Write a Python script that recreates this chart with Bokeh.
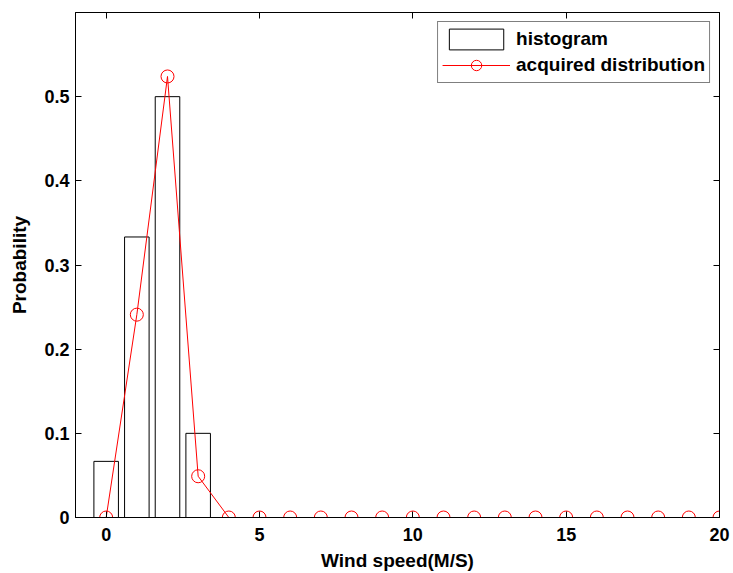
from bokeh.plotting import figure
from bokeh.models import Range1d, LinearAxis, FixedTicker, Legend, LegendItem
from bokeh.embed import file_html
from bokeh.resources import INLINE

# histogram data
bar_centers = [0, 1, 2, 3]
bar_heights = [0.0667, 0.3333, 0.5, 0.1]

# acquired distribution
speeds = list(range(0, 21))
probs = [0, 0.241, 0.524, 0.049, 0, 0, 0, 0, 0, 0, 0,
         0, 0, 0, 0, 0, 0, 0, 0, 0, 0]

x_ticks = [0, 5, 10, 15, 20]
y_ticks = [0, 0.1, 0.2, 0.3, 0.4, 0.5]

FONT = "Liberation Sans"

p = figure(width=733, height=573, x_range=Range1d(-1, 20), y_range=Range1d(0, 0.6),
           output_backend="svg", toolbar_location=None,
           min_border_left=75, min_border_right=14, min_border_top=12, min_border_bottom=56)

p.xgrid.visible = False
p.ygrid.visible = False
p.outline_line_color = "black"
p.outline_line_width = 1
p.background_fill_color = "white"
p.border_fill_color = "white"

bars = p.vbar(x=bar_centers, top=bar_heights, width=0.8, bottom=0,
              fill_color="white", line_color="black", line_width=1)
ln = p.line(speeds, probs, line_color="red", line_width=1)
pts = p.scatter(speeds, probs, marker="circle", size=13, fill_color=None,
                line_color="red", line_width=1)

def style_axis(ax, ticks, labels=True):
    ax.ticker = FixedTicker(ticks=ticks)
    ax.major_tick_in = 6
    ax.major_tick_out = 0
    ax.minor_tick_in = 0
    ax.minor_tick_out = 0
    ax.axis_line_color = "black"
    ax.major_tick_line_color = "black"
    ax.major_label_text_font = FONT
    ax.major_label_text_font_style = "bold"
    ax.major_label_text_color = "black"
    ax.axis_label_text_font = FONT
    ax.axis_label_text_font_style = "bold"
    ax.axis_label_text_color = "black"
    ax.axis_label_text_font_size = "19px"
    ax.major_label_text_font_size = "18px"
    if not labels:
        ax.major_label_overrides = {t: "" for t in ticks}
        ax.major_label_standoff = 0

xa = p.xaxis[0]
xa.axis_label = "Wind speed(M/S)"
style_axis(xa, x_ticks)
xa.major_label_standoff = 10
xa.axis_label_standoff = 6

ya = p.yaxis[0]
ya.axis_label = "Probability"
style_axis(ya, y_ticks)
ya.major_label_standoff = 6
ya.axis_label_standoff = 11

top_ax = LinearAxis()
style_axis(top_ax, x_ticks, labels=False)
p.add_layout(top_ax, "above")

right_ax = LinearAxis()
style_axis(right_ax, y_ticks, labels=False)
p.add_layout(right_ax, "right")

legend = Legend(items=[LegendItem(label="histogram", renderers=[bars]),
                       LegendItem(label="acquired distribution", renderers=[ln, pts])],
                location="top_right", margin=9)
legend.label_text_font = FONT
legend.label_text_font_style = "bold"
legend.label_text_font_size = "19px"
legend.label_text_color = "black"
legend.border_line_color = "black"
legend.border_line_width = 1
legend.background_fill_color = "white"
legend.background_fill_alpha = 1
legend.glyph_width = 68
legend.glyph_height = 26
legend.label_height = 20
legend.label_standoff = 6
legend.spacing = -1
legend.padding = 4
p.add_layout(legend)

open("out.html", "w").write(file_html(p, INLINE))
